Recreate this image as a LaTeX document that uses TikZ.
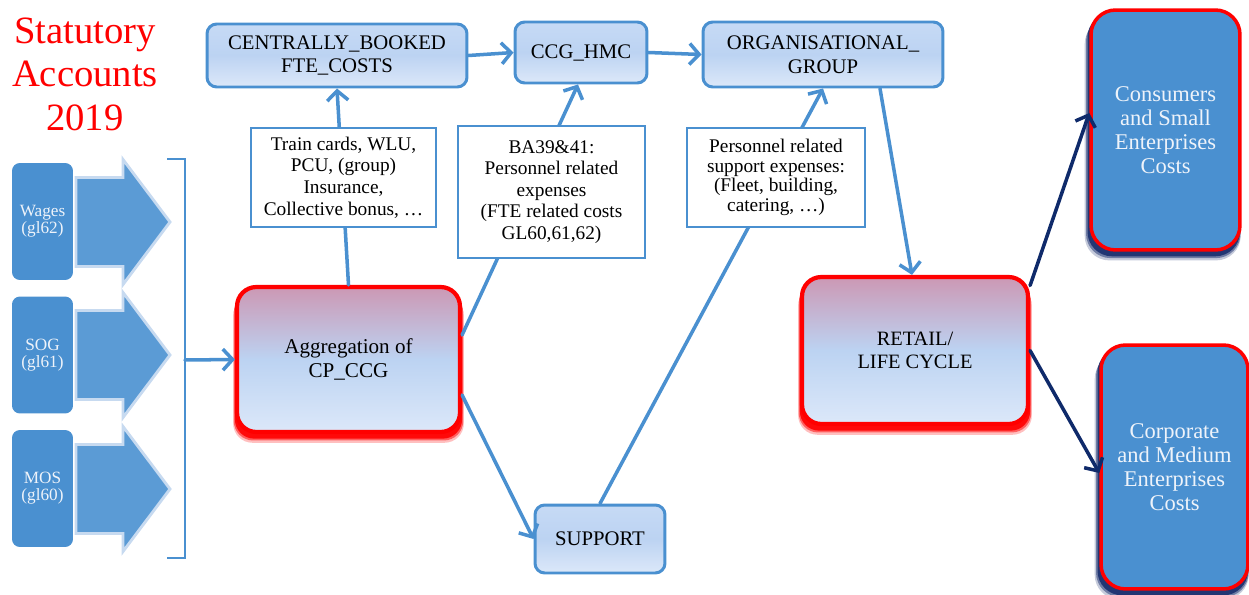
\documentclass[tikz,border=0pt]{standalone}
\usepackage{fontspec}
\setmainfont{Liberation Serif}
\usetikzlibrary{arrows.meta,calc}
\pgfdeclarelayer{shadow}
\pgfsetlayers{shadow,main}
\definecolor{cblue}{HTML}{4A90D0}
\definecolor{arrowfill}{HTML}{5B9BD5}
\definecolor{arrowedge}{HTML}{C7DAF0}
\definecolor{boxtop}{HTML}{C6DAF5}
\definecolor{boxmid}{HTML}{BCD3F2}
\definecolor{boxbot}{HTML}{DCE8F9}
\definecolor{pinktop}{HTML}{CC98B4}
\definecolor{navy}{HTML}{0F2A6A}
\definecolor{navyshadow}{HTML}{1A2F6E}
\definecolor{paletext}{HTML}{EEF3FA}
\tikzset{
  bluebox/.style={draw=cblue, line width=1.7pt, rounded corners=5.5pt,
    top color=boxtop, bottom color=boxbot, middle color=boxmid,
    align=center, inner sep=0pt, text=black,
    font=\fontsize{11.8pt}{13.4pt}\selectfont},
  redbox/.style={draw=red, line width=2.4pt, rounded corners=11pt,
    top color=pinktop, bottom color=boxbot, middle color=boxmid,
    align=center, inner sep=0pt, text=black,
    font=\fontsize{12pt}{14pt}\selectfont},
  darkbox/.style={draw=red, line width=2pt, rounded corners=14pt,
    fill=cblue, text=paletext, align=center, inner sep=0pt,
    font=\fontsize{12.8pt}{13.6pt}\selectfont},
  leftbox/.style={fill=cblue, rounded corners=4.5pt, text=paletext,
    align=center, inner sep=0pt, minimum width=1.22cm, minimum height=2.34cm,
    font=\fontsize{9.8pt}{9.8pt}\selectfont},
  labelbox/.style={draw=cblue, line width=0.8pt, fill=white, align=center,
    inner sep=0pt, text=black},
  conn/.style={draw=cblue, line width=2pt, line cap=round,
    -{Straight Barb[length=5.5pt,width=12pt]}},
  navyconn/.style={draw=navy, line width=2pt, line cap=round,
    -{Straight Barb[length=5.5pt,width=12pt]}},
  bigarrow/.style={fill=arrowfill, draw=arrowedge, line width=1.6pt, line join=miter},
}
\newcommand{\glowshadow}[5]{% node, colour, radius, xshift, yshift
  \begin{pgfonlayer}{shadow}
    \fill[#2, opacity=0.25, rounded corners=#3]
      ([xshift=#4*1.6-1pt, yshift=#5*1.9-1.4pt]#1.north west) rectangle ([xshift=#4*1.6+1pt, yshift=#5*1.9]#1.south east);
    \fill[#2, opacity=0.5, rounded corners=#3]
      ([xshift=#4*1.25-0.6pt, yshift=#5*1.4-1pt]#1.north west) rectangle ([xshift=#4*1.25+0.6pt, yshift=#5*1.4]#1.south east);
    \fill[#2, opacity=0.9, rounded corners=#3]
      ([xshift=#4, yshift=#5]#1.north west) rectangle ([xshift=#4, yshift=#5]#1.south east);
  \end{pgfonlayer}}
\begin{document}
\begin{tikzpicture}[x=0.02cm, y=-0.02cm]
\useasboundingbox (0,0) rectangle (1249,595);

% title
\node[text=red, align=center, font=\fontsize{22pt}{24.7pt}\selectfont] (title) at (85,74)
  {Statutory\\Accounts\\2019};

% big arrows
\foreach \c in {222,355,489}{
  \draw[bigarrow] (76,\c-44.5) -- (123,\c-44.5) -- (123,\c-62.5) -- (170,\c)
     -- (123,\c+62.5) -- (123,\c+44.5) -- (76,\c+44.5) -- cycle;
}

% left boxes
\node[leftbox] (wages) at (42.5,221.5) {Wages\\(gl62)};
\node[leftbox] (sog) at (42.5,355) {SOG\\(gl61)};
\node[leftbox] (mos) at (42.5,488.5) {MOS\\(gl60)};

% bracket
\coordinate (brtl) at (167,159);
\coordinate (brt) at (185,159);
\coordinate (brb) at (185,558);
\coordinate (brbl) at (167,558);
\coordinate (brm) at (185,360);
\draw[cblue, line width=0.9pt] (brtl) -- (brt) -- (brb) -- (brbl);

% main boxes
\node[bluebox, minimum width=5.2cm, minimum height=1.26cm] (cb) at (337,55.5)
  {CENTRALLY\_BOOKED\\FTE\_COSTS};
\node[bluebox, minimum width=2.64cm, minimum height=1.22cm] (ccg) at (581,52.5)
  {CCG\_HMC};
\node[bluebox, minimum width=4.8cm, minimum height=1.3cm] (org) at (823,54.5)
  {ORGANISATIONAL\_\\GROUP};
\node[bluebox, minimum width=2.6cm, minimum height=1.36cm] (sup) at (600,539)
  {SUPPORT};
\node[redbox, minimum width=4.46cm, minimum height=2.9cm] (agg) at (348.5,359.5)
  {Aggregation of\\CP\_CCG};
\node[redbox, minimum width=4.52cm, minimum height=2.94cm,
  font=\fontsize{11.6pt}{13.2pt}\selectfont] (ret) at (915,350.5)
  {RETAIL/\\LIFE CYCLE};
\node[darkbox, minimum width=2.98cm, minimum height=4.8cm] (cons) at (1165.5,130)
  {Consumers\\and Small\\Enterprises\\Costs};
\node[darkbox, minimum width=2.94cm, minimum height=4.88cm] (corp) at (1174.5,467)
  {Corporate\\and Medium\\Enterprises\\Costs};

% shadows / glows
\glowshadow{agg}{red}{11pt}{0pt}{-2.6pt}
\glowshadow{ret}{red}{11pt}{0pt}{-2.6pt}
\glowshadow{cons}{navyshadow}{14pt}{-1pt}{-2.6pt}
\glowshadow{corp}{navyshadow}{14pt}{-1pt}{-2.6pt}

% connectors
\draw[conn] (brm) -- (agg.west);
\draw[conn] (cb.east) -- (ccg.west);
\draw[conn] (ccg.east) -- (org.west);
\draw[conn] (agg.north) -- (cb.south);
\draw[conn] ([yshift=0.49cm]agg.east) -- ([xshift=-0.06cm]ccg.south);
\draw[conn] ([yshift=-0.71cm]agg.east) -- (sup.west);
\draw[conn] (sup.north) -- (org.south);
\draw[conn] ([xshift=1.14cm]org.south) -- ([xshift=-0.06cm]ret.north);
\draw[navyconn] ([yshift=1.3cm]ret.east) -- ([yshift=0.34cm]cons.west);
\draw[navyconn] (ret.east) -- ([yshift=-0.12cm]corp.west);

% label boxes on top of connectors
\node[labelbox, minimum width=3.7cm, minimum height=1.98cm,
  font=\fontsize{11pt}{12.3pt}\selectfont] (lab1) at (343.5,177.5)
  {Train cards, WLU,\\PCU, (group)\\Insurance,\\Collective bonus, …};
\node[labelbox, minimum width=3.74cm, minimum height=2.64cm,
  font=\fontsize{11pt}{12.3pt}\selectfont] (lab2) at (551.5,192)
  {BA39\&41:\\Personnel related\\expenses\\(FTE related costs\\GL60,61,62)};
\node[labelbox, minimum width=3.56cm, minimum height=1.98cm,
  font=\fontsize{11pt}{11.2pt}\selectfont] (lab3) at (776,177.5)
  {Personnel related\\support expenses:\\(Fleet, building,\\catering, …)};
\end{tikzpicture}
\end{document}
